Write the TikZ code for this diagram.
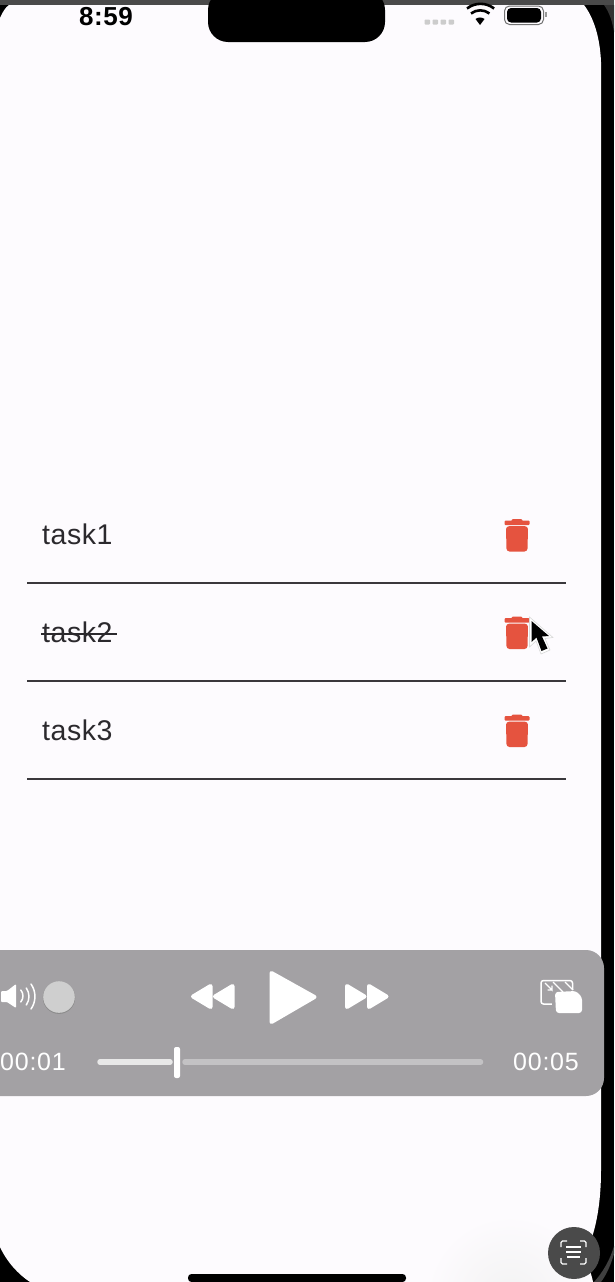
\documentclass[tikz,border=0pt]{standalone}
\usepackage{fontspec}
\setmainfont{Liberation Sans}
\usepackage{xcolor}
\definecolor{screenbg}{HTML}{FDFBFE}
\definecolor{panelgrey}{HTML}{A3A1A4}
\definecolor{trashred}{HTML}{E5533F}
\definecolor{topgrey}{HTML}{4A4A4A}
\definecolor{inkgrey}{HTML}{2B292D}
\definecolor{rulegrey}{HTML}{3A383C}
\begin{document}
\begin{tikzpicture}[x=1pt,y=-1pt,
  task/.style={anchor=base west,inner sep=0pt,font=\fontsize{28.5}{28}\selectfont\addfontfeature{LetterSpace=2},text=inkgrey},
  stamp/.style={anchor=base,inner sep=0pt,font=\fontsize{25}{25}\selectfont\addfontfeature{LetterSpace=3},text=white},
  rule/.style={draw=rulegrey,line width=1.5pt},
  whiteicon/.style={fill=white,draw=white,line width=4pt,line join=round},
  trash/.pic={
    \fill[trashred,rounded corners=1pt] (-12.5,-15) -- (12.5,-15) -- (12.5,-10.5) -- (-12.5,-10.5) -- cycle;
    \fill[trashred,rounded corners=1pt] (-5,-16.5) -- (5,-16.5) -- (6,-13) -- (-6,-13) -- cycle;
    \fill[trashred,rounded corners=3pt] (-11,-9.3) -- (11,-9.3) -- (10.5,16) -- (-10.5,16) -- cycle;
  }]
\useasboundingbox (0,0) rectangle (614,1282);
\fill[black] (0,0) rectangle (614,1282);
\fill[screenbg] (0,18) .. controls (3,11) and (6,7) .. (9,5) -- (584,5) .. controls (594,18) and (600,38) .. (601,62) -- (601,1170) .. controls (601,1220) and (590,1258) .. (566,1282) -- (30,1282) .. controls (18,1274) and (7,1262) .. (0,1247) -- cycle;
\shade[inner color=black!5,outer color=screenbg] (510,1300) circle[radius=85];
\fill[topgrey] (0,0) rectangle (614,5);
\fill[black!80] (604,5) -- (614,5) -- (614,32) .. controls (612,20) and (609,12) .. cycle;
\fill[black!75] (614,1246) -- (614,1254) .. controls (611,1264) and (607,1274) .. (601,1282) -- (594,1282) .. controls (603,1272) and (610,1260) .. cycle;
\fill[black,rounded corners=20pt] (208,-10) rectangle (385,42);
\node[anchor=base,inner sep=0pt,font=\fontsize{26}{26}\selectfont\bfseries\addfontfeature{LetterSpace=2},text=black] (clock) at (106,25) {8:59};
\foreach \i in {0,1,2,3} \fill[black!20,rounded corners=.8pt] (424.5+\i*8,19.5) rectangle ++(5.5,5);
\fill[black] (480,25) -- (475.5,19) arc[start angle=233,end angle=307,radius=7.5] -- cycle;
\draw[black,line width=2.6pt] (471,13.5) arc[start angle=232,end angle=308,radius=15];
\draw[black,line width=2.6pt] (467,8.5) arc[start angle=232,end angle=308,radius=22];
\draw[black!55,line width=1pt,rounded corners=5pt] (504.5,6) rectangle (543.5,24.5);
\fill[black,rounded corners=4pt] (507,8) rectangle (541,22.5);
\fill[black!40] (545,12) rectangle (546.5,17);
\draw[rule] (27,583) -- (566,583);
\draw[rule] (27,681) -- (566,681);
\draw[rule] (27,779) -- (566,779);
\node[task] (task1) at (42,544) {task1};
\node[task] (task2) at (42,642) {task2};
\node[task] (task3) at (42,740) {task3};
\draw[inkgrey,line width=1.4pt] ([shift={(-1,-8)}]task2.base west) -- ([shift={(4,-8)}]task2.base east);
\pic at (517,535.5) {trash};
\pic at (517,633) {trash};
\pic at (517,731) {trash};
\fill[white,draw=black!15,line width=.6pt] (529.5,617) -- (529.5,647) -- (536,641) -- (541,654) -- (550,650) -- (545,638.5) -- (553,637.5) -- cycle;
\fill[black] (531.5,621) -- (531.5,642) -- (536.5,637.5) -- (541.5,651) -- (547.5,648.5) -- (542,636.5) -- (549,636) -- cycle;
\fill[panelgrey,rounded corners=18pt] (-30,950) rectangle (604,1096);
\node[stamp] (start) at (33,1070.5) {00:01};
\node[stamp] (end) at (546,1070.5) {00:05};
\fill[white,rounded corners=1pt] (1,991) -- (7,991) -- (16,984) -- (16,1008) -- (7,1002) -- (1,1002) -- cycle;
\draw[white,line width=1.5pt,line cap=round] (20.8,990) arc[start angle=-40,end angle=40,radius=9.3];
\draw[white,line width=1.5pt,line cap=round] (26.3,988) arc[start angle=-35,end angle=35,radius=14.8];
\draw[white,line width=1.5pt,line cap=round] (31,984) arc[start angle=-35,end angle=35,radius=21.8];
\fill[black!45] (59,997.7) circle[radius=16.2];
\fill[black!19] (59,997) circle[radius=15.8];
\filldraw[whiteicon] (193,996.5) -- (210.5,986) -- (210.5,1007) -- cycle;
\filldraw[whiteicon] (215,996.5) -- (232.5,986) -- (232.5,1007) -- cycle;
\filldraw[whiteicon] (271.5,973) -- (314.5,997) -- (271.5,1022) -- cycle;
\filldraw[whiteicon] (347,986) -- (364.5,996.5) -- (347,1007) -- cycle;
\filldraw[whiteicon] (369,986) -- (386.5,996.5) -- (369,1007) -- cycle;
\draw[white,line width=1.5pt,rounded corners=2.5pt] (541,980.5) rectangle (572.5,1004);
\fill[panelgrey] (552,990) rectangle (584,1014);
\fill[white,rounded corners=3pt] (555,992) -- (576,991) -- (582,997) -- (582,1013) -- (556,1013) -- cycle;
\draw[white,line width=1.3pt] (545,983) -- (552,990) -- (552,985.5) (552,990) -- (547.5,990) (553,982) -- (563,992) (565,982) -- (573,990);
\draw[white!35!panelgrey,line width=5.5pt,line cap=round] (185,1062) -- (480.5,1062);
\draw[black!9,line width=5.5pt,line cap=round] (100,1062) -- (170,1062);
\fill[white,rounded corners=2pt] (174,1047) rectangle (180,1078);
\fill[topgrey] (574,1253) circle[radius=26];
\draw[white,line width=1.3pt,rounded corners=1.5pt] (561,1247) -- (561,1241) -- (567,1241) (580,1241) -- (586,1241) -- (586,1247) (586,1258) -- (586,1264) -- (580,1264) (567,1264) -- (561,1264) -- (561,1258);
\draw[white,line width=1.3pt] (566,1247) -- (581,1247) (566,1252) -- (581,1252) (567,1257) -- (580,1257);
\fill[black,rounded corners=3.5pt] (188,1274) rectangle (406,1282);
\end{tikzpicture}
\end{document}
